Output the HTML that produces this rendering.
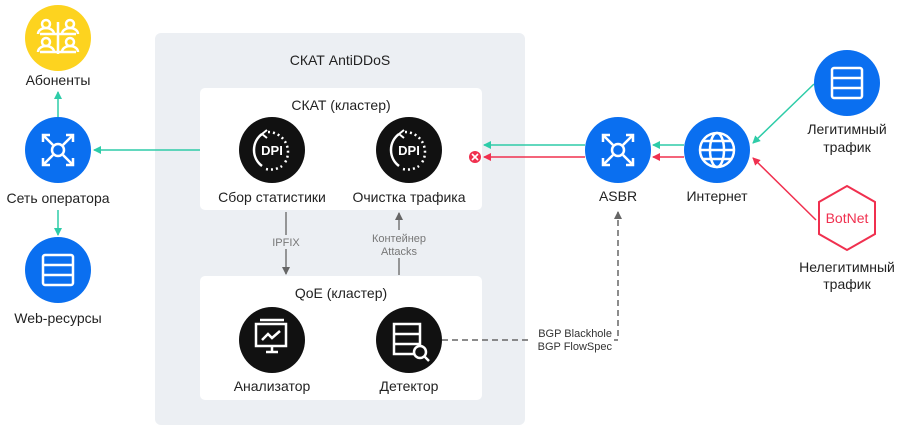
<!DOCTYPE html>
<html><head><meta charset="utf-8"><style>
body{margin:0;background:#fff;}
svg text{font-family:"Liberation Sans",sans-serif;}
</style></head><body>
<svg width="900" height="430" viewBox="0 0 900 430" xmlns="http://www.w3.org/2000/svg">
<defs>
<marker id="ag" markerWidth="8" markerHeight="8" refX="7" refY="4" orient="auto" markerUnits="userSpaceOnUse"><path d="M0,0 L8,4 L0,8z" fill="#2ecca8"/></marker>
<marker id="ar" markerWidth="8" markerHeight="8" refX="7" refY="4" orient="auto" markerUnits="userSpaceOnUse"><path d="M0,0 L8,4 L0,8z" fill="#f0304f"/></marker>
<marker id="ak" markerWidth="8" markerHeight="8" refX="7" refY="4" orient="auto" markerUnits="userSpaceOnUse"><path d="M0,0 L8,4 L0,8z" fill="#666"/></marker>
</defs>
<rect x="155" y="33" width="370" height="392" rx="6" fill="#eceff3"/>
<text x="340" y="65" font-size="14" text-anchor="middle" fill="#222">СКАТ AntiDDoS</text>
<rect x="200" y="88" width="282" height="122" rx="5" fill="#fff"/>
<rect x="200" y="276" width="282" height="124" rx="5" fill="#fff"/>
<text x="341" y="110" font-size="14" text-anchor="middle" fill="#222">СКАТ (кластер)</text>
<text x="341" y="298" font-size="14" text-anchor="middle" fill="#222">QoE (кластер)</text>

<!-- left nodes -->
<circle cx="58" cy="38" r="33" fill="#fdd31f"/>
<g stroke="#fff" stroke-width="2.5" fill="none"><circle cx="46" cy="24" r="4"/><circle cx="70" cy="24" r="4"/><circle cx="46" cy="42" r="4"/><circle cx="70" cy="42" r="4"/><path d="M40,34h36M40,52h36M58,22v32M38,34a8,6 0 0 1 16,0M62,34a8,6 0 0 1 16,0M38,52a8,6 0 0 1 16,0M62,52a8,6 0 0 1 16,0"/></g>
<text x="58" y="85" font-size="14" text-anchor="middle" fill="#222">Абоненты</text>
<line x1="58" y1="117" x2="58" y2="92" stroke="#2ecca8" stroke-width="1.5" marker-end="url(#ag)"/>
<circle cx="58" cy="150" r="33" fill="#0a6ff0"/>
<g stroke="#fff" stroke-width="2.5" fill="none"><circle cx="58" cy="150" r="6"/><path d="M53,145L43,135M63,145L73,135M53,155L43,165M63,155L73,165M43,142v-7h7M73,142v-7h-7M43,158v7h7M73,158v7h-7"/></g>
<text x="58" y="203" font-size="14" text-anchor="middle" fill="#222">Сеть оператора</text>
<line x1="58" y1="210" x2="58" y2="235" stroke="#2ecca8" stroke-width="1.5" marker-end="url(#ag)"/>
<circle cx="58" cy="270" r="33" fill="#0a6ff0"/>
<g stroke="#fff" stroke-width="2.5" fill="none"><rect x="43" y="255" width="30" height="30" rx="2"/><path d="M43,265h30M43,275h30"/></g>
<text x="58" y="323" font-size="14" text-anchor="middle" fill="#222">Web-ресурсы</text>
<line x1="200" y1="150" x2="94" y2="150" stroke="#2ecca8" stroke-width="1.5" marker-end="url(#ag)"/>

<!-- DPI -->
<g id="dpi">
<circle cx="272" cy="150" r="33" fill="#111"/>
<path d="M262,134 A20,20 0 0 0 262,166" stroke="#fff" stroke-width="2.5" fill="none"/>
<path d="M262,134 l5,-4 M262,134 l5,4" stroke="#fff" stroke-width="2"/>
<path d="M268,132 A20,20 0 0 1 284,164" stroke="#fff" stroke-width="2.5" fill="none" stroke-dasharray="2 3"/>
<path d="M266,169 A20,20 0 0 0 282,166" stroke="#fff" stroke-width="2.5" fill="none" stroke-dasharray="2 3"/>
<text x="272" y="155" font-size="13" font-weight="bold" fill="#fff" text-anchor="middle">DPI</text>
</g>
<use href="#dpi" x="137"/>
<text x="272" y="202" font-size="14" text-anchor="middle" fill="#222">Сбор статистики</text>
<text x="409" y="202" font-size="14" text-anchor="middle" fill="#222">Очистка трафика</text>

<line x1="286" y1="212" x2="286" y2="274" stroke="#777" stroke-width="1.5" marker-end="url(#ak)"/>
<rect x="268" y="235" width="36" height="14" fill="#eceff3"/>
<text x="286" y="246" font-size="11" text-anchor="middle" fill="#777">IPFIX</text>
<line x1="399" y1="275" x2="399" y2="213" stroke="#777" stroke-width="1.5" marker-end="url(#ak)"/>
<rect x="365" y="230" width="68" height="28" fill="#eceff3"/>
<text x="399" y="242" font-size="11" text-anchor="middle" fill="#777">Контейнер</text>
<text x="399" y="255" font-size="11" text-anchor="middle" fill="#777">Attacks</text>

<!-- analyzer, detector -->
<circle cx="272" cy="340" r="33" fill="#111"/>
<g stroke="#fff" stroke-width="2.5" fill="none"><rect x="256" y="324" width="30" height="22"/><path d="M260,320h24M266,352h12M272,346v6M262,340l6,-6 4,4 8,-7"/></g>
<circle cx="409" cy="340" r="33" fill="#111"/>
<g stroke="#fff" stroke-width="2.5" fill="none"><rect x="394" y="324" width="26" height="30"/><path d="M394,334h26M394,344h26"/><circle cx="420" cy="352" r="6" fill="#111"/><path d="M424,356l5,5"/></g>
<text x="272" y="391" font-size="14" text-anchor="middle" fill="#222">Анализатор</text>
<text x="409" y="391" font-size="14" text-anchor="middle" fill="#222">Детектор</text>

<!-- BGP -->
<path d="M442,340 H618 V212" stroke="#666" stroke-width="1.5" fill="none" stroke-dasharray="6 4" marker-end="url(#ak)"/>
<rect x="532" y="326" width="82" height="26" fill="#fff"/>
<text x="612" y="337" font-size="11" text-anchor="end" fill="#333">BGP Blackhole</text>
<text x="612" y="350" font-size="11" text-anchor="end" fill="#333">BGP FlowSpec</text>

<!-- ASBR / internet -->
<line x1="585" y1="145" x2="484" y2="145" stroke="#2ecca8" stroke-width="1.5" marker-end="url(#ag)"/>
<line x1="585" y1="157" x2="484" y2="157" stroke="#f0304f" stroke-width="1.5" marker-end="url(#ar)"/>
<circle cx="475" cy="157" r="6" fill="#f0304f"/>
<path d="M472,154l6,6M478,154l-6,6" stroke="#fff" stroke-width="1.6"/>
<circle cx="618" cy="150" r="33" fill="#0a6ff0"/>
<g stroke="#fff" stroke-width="2.5" fill="none"><circle cx="618" cy="150" r="6"/><path d="M613,145L603,135M623,145L633,135M613,155L603,165M623,155L633,165M603,142v-7h7M633,142v-7h-7M603,158v7h7M633,158v7h-7"/></g>
<text x="618" y="201" font-size="14" text-anchor="middle" fill="#222">ASBR</text>
<line x1="684" y1="145" x2="653" y2="145" stroke="#2ecca8" stroke-width="1.5" marker-end="url(#ag)"/>
<line x1="684" y1="157" x2="653" y2="157" stroke="#f0304f" stroke-width="1.5" marker-end="url(#ar)"/>
<circle cx="717" cy="150" r="33" fill="#0a6ff0"/>
<g stroke="#fff" stroke-width="2.5" fill="none"><circle cx="717" cy="150" r="17"/><ellipse cx="717" cy="150" rx="7" ry="17"/><path d="M700,150h34M703,141h28M703,159h28"/></g>
<text x="717" y="201" font-size="14" text-anchor="middle" fill="#222">Интернет</text>

<line x1="814" y1="84" x2="753" y2="143" stroke="#2ecca8" stroke-width="1.5" marker-end="url(#ag)"/>
<line x1="816" y1="220" x2="753" y2="158" stroke="#f0304f" stroke-width="1.5" marker-end="url(#ar)"/>
<circle cx="847" cy="83" r="33" fill="#0a6ff0"/>
<g stroke="#fff" stroke-width="2.5" fill="none"><rect x="832" y="68" width="30" height="30" rx="2"/><path d="M832,78h30M832,88h30"/></g>
<text x="847" y="134" font-size="14" text-anchor="middle" fill="#222">Легитимный</text>
<text x="847" y="152" font-size="14" text-anchor="middle" fill="#222">трафик</text>
<polygon points="847,186 875,202 875,234 847,250 819,234 819,202" fill="#fff" stroke="#f0304f" stroke-width="2"/>
<text x="847" y="223" font-size="14" text-anchor="middle" fill="#f0304f">BotNet</text>
<text x="847" y="272" font-size="14" text-anchor="middle" fill="#222">Нелегитимный</text>
<text x="847" y="289" font-size="14" text-anchor="middle" fill="#222">трафик</text>
</svg>
</body></html>
